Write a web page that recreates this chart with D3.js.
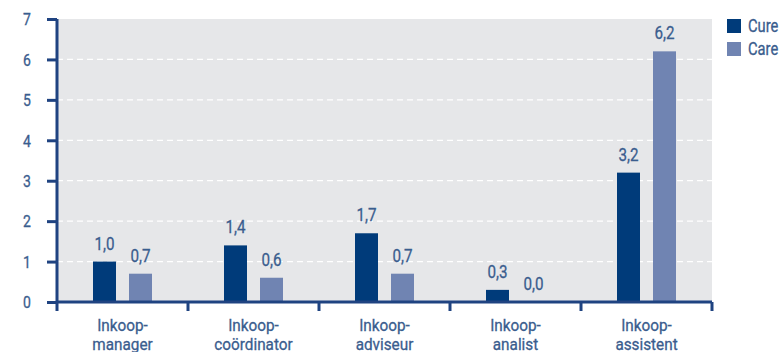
<!DOCTYPE html>
<html>
<head>
<meta charset="utf-8">
<script src="https://cdn.jsdelivr.net/npm/d3@7/dist/d3.min.js"></script>
<style>
  html, body { margin: 0; padding: 0; background: #ffffff; }
  svg text { font-family: Roboto, "Liberation Sans", sans-serif; stroke: #3a5d8e; stroke-width: 0.3px; }
</style>
</head>
<body>
<svg id="chart" width="779" height="352"></svg>
<script>
const categories = [["Inkoop-", "manager"], ["Inkoop-", "coördinator"], ["Inkoop-", "adviseur"], ["Inkoop-", "analist"], ["Inkoop-", "assistent"]];
const seriesNames = ["Cure", "Care"];
const cureValues = [1.0, 1.4, 1.7, 0.3, 3.2];
const careValues = [0.7, 0.6, 0.7, 0.0, 6.2];
const yTicks = [0, 1, 2, 3, 4, 5, 6, 7];

const colors = { Cure: "#003b7a", Care: "#7084b2" };
const textColor = "#3a5d8e";
const axisColor = "#1f4381";

// horizontally narrowed text, to get a condensed face
const narrow = (x, y, sx) => `translate(${x},${y}) scale(${sx},1)`;

const svg = d3.select("#chart");
const margin = { left: 57, top: 19, right: 67, bottom: 50 };
const width = 779 - margin.left - margin.right;
const height = 352 - margin.top - margin.bottom;

const g = svg.append("g").attr("transform", `translate(${margin.left},${margin.top})`);

const x0 = d3.scaleBand().domain(d3.range(categories.length)).range([0, width]).paddingInner(0).paddingOuter(0);
const x1 = d3.scaleBand().domain(seriesNames).range([36, x0.bandwidth() - 36]).paddingInner(13 / 36).paddingOuter(0);
const y = d3.scaleLinear().domain([0, 7]).range([height, 0]);

// plot background
g.append("rect").attr("x", 0).attr("y", 0).attr("width", width).attr("height", height).attr("fill", "#e6e7e9");

// dashed gridlines
g.selectAll("line.grid").data(yTicks.filter(t => t > 0 && t < 7)).enter().append("line")
  .attr("class", "grid")
  .attr("x1", 0).attr("x2", width)
  .attr("y1", d => y(d)).attr("y2", d => y(d))
  .attr("stroke", "#ffffff").attr("stroke-width", 1.2).attr("stroke-dasharray", "6,4");

// bars and value labels
const series = seriesNames.map(name => ({ name, values: name === "Cure" ? cureValues : careValues }));
series.forEach(s => {
  g.selectAll(null).data(s.values).enter().append("rect")
    .attr("x", (d, i) => x0(i) + x1(s.name))
    .attr("y", d => y(d))
    .attr("width", x1.bandwidth())
    .attr("height", d => height - y(d))
    .attr("fill", colors[s.name]);
  g.selectAll(null).data(s.values).enter().append("text")
    .attr("transform", (d, i) => narrow(x0(i) + x1(s.name) + x1.bandwidth() / 2, y(d) - 12, 0.8))
    .attr("text-anchor", "middle")
    .attr("font-size", 19)
    .attr("fill", textColor)
    .text(d => d.toFixed(1).replace(".", ","));
});

// y axis
const yAxis = d3.axisLeft(y).tickValues(yTicks).tickSize(10).tickFormat(d => d);
const ya = g.append("g").call(yAxis);
ya.select(".domain").remove();
ya.append("line").attr("x1", 0).attr("x2", 0).attr("y1", 0).attr("y2", height + 9)
  .attr("stroke", axisColor).attr("stroke-width", 3);
ya.selectAll(".tick line").attr("stroke", axisColor).attr("stroke-width", 3);
ya.selectAll(".tick text")
  .attr("x", 0)
  .attr("transform", narrow(-26, 0, 0.85))
  .attr("fill", textColor).attr("font-size", 16.5).attr("dy", "0.35em");

// x axis with boundary ticks between categories
const boundaries = d3.range(categories.length + 1).map(i => i * x0.step());
const xa = g.append("g").attr("transform", `translate(0,${height})`);
xa.append("line").attr("x1", 0).attr("x2", width).attr("y1", 0).attr("y2", 0)
  .attr("stroke", axisColor).attr("stroke-width", 3);
xa.selectAll("line.tick").data(boundaries.slice(1)).enter().append("line")
  .attr("x1", d => d).attr("x2", d => d).attr("y1", 0).attr("y2", 9)
  .attr("stroke", axisColor).attr("stroke-width", 3);
const labels = xa.selectAll("text.cat").data(categories).enter().append("text")
  .attr("class", "cat")
  .attr("text-anchor", "middle")
  .attr("fill", textColor)
  .attr("font-size", 17)
  .attr("transform", (d, i) => narrow(x0(i) + x0.bandwidth() / 2, 0, 0.9));
labels.selectAll("tspan").data(d => d).enter().append("tspan")
  .attr("x", 0)
  .attr("y", (d, i) => 29 + i * 19)
  .text(d => d);

// legend
const legend = svg.append("g").attr("transform", "translate(727,19)");
seriesNames.forEach((name, i) => {
  const row = legend.append("g").attr("transform", `translate(0,${i * 23})`);
  row.append("rect").attr("width", 14).attr("height", 14).attr("fill", colors[name]);
  row.append("text")
    .attr("transform", narrow(21, 7, 0.84))
    .attr("dy", "0.35em")
    .attr("font-size", 17.5).attr("fill", textColor).text(name);
});
</script>
</body>
</html>
